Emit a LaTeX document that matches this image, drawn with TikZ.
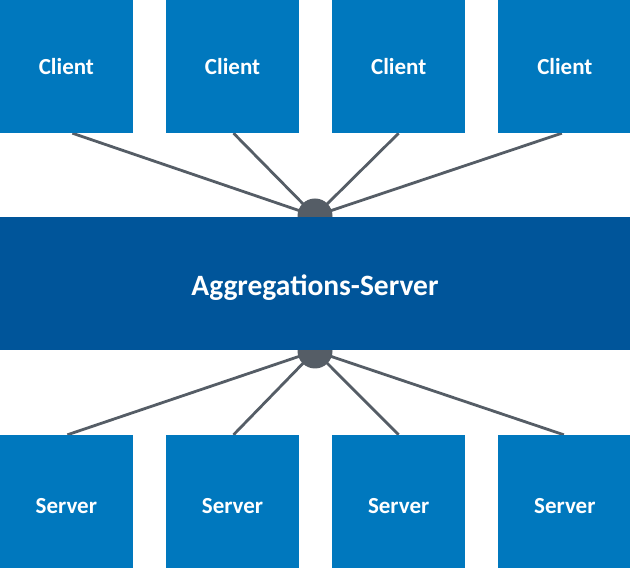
\documentclass[tikz,border=0pt]{standalone}
\usepackage{fontspec}
\setmainfont{Carlito}
\usepackage{tikz}
\usetikzlibrary{positioning}
\definecolor{agblue}{RGB}{0,120,190}
\definecolor{agdarkblue}{RGB}{0,85,154}
\definecolor{aggray}{RGB}{85,93,102}
\pgfdeclarelayer{links}
\pgfdeclarelayer{hubs}
\pgfsetlayers{links,hubs,main}
\tikzstyle{box} = [rectangle, minimum width=132.75pt, minimum height=133pt, inner sep=0pt, text centered, fill=agblue, text=white, font=\fontsize{23}{27}\selectfont\bfseries]
\tikzstyle{serverbox} = [box, text height=25pt, text depth=0pt]
\tikzstyle{band} = [box, fill=agdarkblue, minimum width=630pt, text height=31pt, text depth=6pt, font=\fontsize{29.5}{34}\selectfont\bfseries]
\tikzstyle{link} = [line width=2.8pt, color=aggray]

\begin{document}
\begin{tikzpicture}[x=1pt, y=1pt, node distance=33pt]
\useasboundingbox (0,0) rectangle (630,568);

% Clients on top
\node (c1) [box] at (66.375,501.5) {Client};
\node (c2) [box, right=of c1] {Client};
\node (c3) [box, right=of c2] {Client};
\node (c4) [box, right=of c3] {Client};

% Servers at the bottom
\node (s1) [serverbox] at (66.375,66.5) {Server};
\node (s2) [serverbox, right=of s1] {Server};
\node (s3) [serverbox, right=of s2] {Server};
\node (s4) [serverbox, right=of s3] {Server};

% Aggregation server band
\node (agg) [band] at (315,284.5) {Aggregations-Server};

% Connection points, half hidden by the band
\begin{pgfonlayer}{hubs}
\fill[aggray] (315,352) coordinate (top) circle (17.5pt);
\fill[aggray] (315,217) coordinate (bottom) circle (17.5pt);
\end{pgfonlayer}

% Links to the hubs
\begin{pgfonlayer}{links}
\draw[link] ([xshift=6pt]c1.south) -- (top);
\draw[link] ([xshift=1pt]c2.south) -- (top);
\draw[link] (c3.south) -- (top);
\draw[link] ([xshift=-3pt]c4.south) -- (top);
\draw[link] ([xshift=1pt]s1.north) -- (bottom);
\draw[link] ([xshift=1pt]s2.north) -- (bottom);
\draw[link] (s3.north) -- (bottom);
\draw[link] ([xshift=-1pt]s4.north) -- (bottom);
\end{pgfonlayer}
\end{tikzpicture}
\end{document}
